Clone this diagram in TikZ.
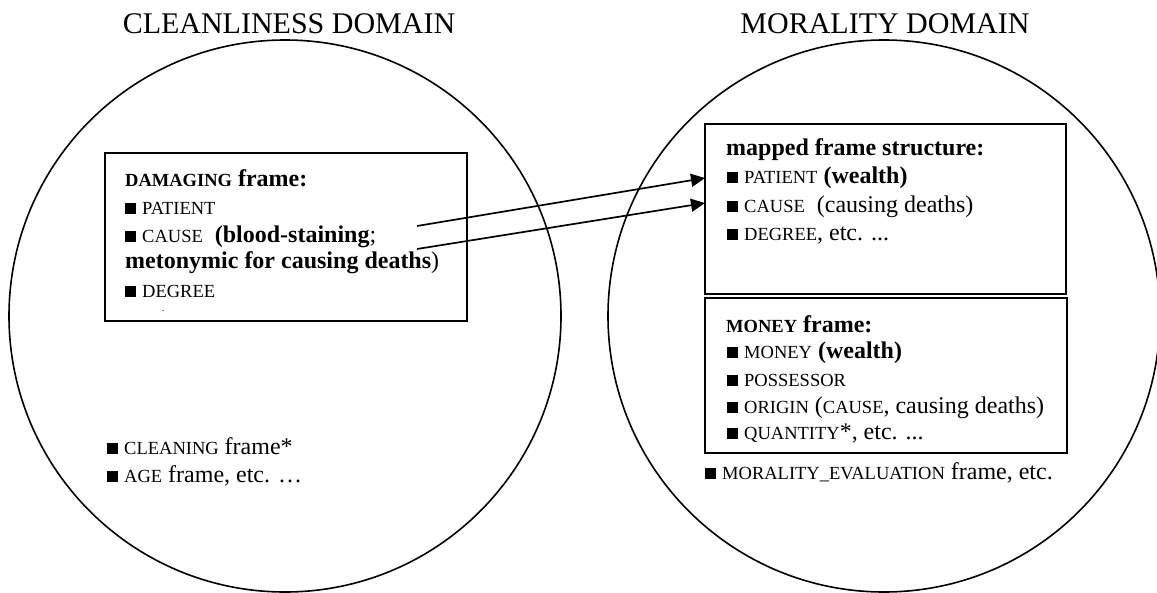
\documentclass[tikz,border=0pt]{standalone}
\usepackage{fontspec}
\setmainfont{Liberation Serif}
\usetikzlibrary{arrows.meta}
% frame-element names in reduced capitals
\newcommand\fe[1]{{\fontsize{18.5}{22}\selectfont #1}}
% square bullet
\newcommand\sqb{\rule{11pt}{11pt}\hspace{6pt}}
\begin{document}
\begin{tikzpicture}[x=1pt,y=-1pt,
  domcircle/.style={circle,draw,line width=1.6pt,minimum size=552pt,inner sep=0pt,outer sep=0pt},
  dtitle/.style={anchor=base,inner sep=0pt,font=\fontsize{30}{34}\selectfont},
  framebox/.style={draw,line width=1.8pt,anchor=north west,inner sep=0pt,outer sep=0pt},
  txt/.style={anchor=base west,inner sep=0pt,font=\fontsize{24}{28}\selectfont},
  map/.style={line width=1.7pt,-{Triangle[length=14pt,width=13pt]}}]
\useasboundingbox (0,0) rectangle (1157,592);

% domains
\node[domcircle] (clean) at (285,316) {};
\node[domcircle] (moral) at (884,316) {};
\node[dtitle] (cleanT) at (289,33) {CLEANLINESS DOMAIN};
\node[dtitle] (moralT) at (885,33) {MORALITY DOMAIN};

% source frame
\node[framebox,minimum width=362pt,minimum height=168pt] (dmg) at (105,153) {};
\node[txt] (d0) at (125,186) {\textbf{\fe{DAMAGING} frame:}};
\node[txt] (d1) at (125,214) {\sqb\fe{PATIENT}};
\node[txt] (d2) at (125,242) {\sqb\fe{CAUSE}\ \ \textbf{(blood-staining};};
\node[txt] (d3) at (125,268) {\textbf{metonymic for causing deaths})};
\node[txt] (d4) at (125,297) {\sqb\fe{DEGREE}};
\node[anchor=base,inner sep=0pt,font=\fontsize{10}{12}\selectfont] (d5) at (163,311) {.};

\node[txt] (c1) at (107,454) {\sqb\fe{CLEANING} frame*};
\node[txt] (c2) at (107,482) {\sqb\fe{AGE} frame, etc. …};

% target frames
\node[framebox,minimum width=361pt,minimum height=170pt] (mapped) at (705,124) {};
\node[txt] (m0) at (726,155) {\textbf{mapped frame structure:}};
\node[txt] (m1) at (727,183) {\sqb\fe{PATIENT} \textbf{(wealth)}};
\node[txt] (m2) at (727,212) {\sqb\fe{CAUSE}\ \ (causing deaths)};
\node[txt] (m3) at (727,240) {\sqb\fe{DEGREE}, etc. ...};

\node[framebox,minimum width=362pt,minimum height=155pt] (money) at (705,298) {};
\node[txt] (n0) at (726,332) {\textbf{\fe{MONEY} frame:}};
\node[txt] (n1) at (727,358) {\sqb\fe{MONEY} \textbf{(wealth)}};
\node[txt] (n2) at (727,386) {\sqb\fe{POSSESSOR}};
\node[txt] (n3) at (727,413) {\sqb\fe{ORIGIN} (\fe{CAUSE}, causing deaths)};
\node[txt] (n4) at (727,439) {\sqb\fe{QUANTITY}*, etc. ...};

\node[txt] (e1) at (705,479) {\sqb\fe{MORALITY\_EVALUATION} frame, etc.};

% mappings
\coordinate (s1) at (417,226);
\coordinate (s2) at (417,249);
\coordinate (t1) at (mapped.west |- 0,178);
\coordinate (t2) at (mapped.west |- 0,203);
\draw[map] (s1) -- (t1);
\draw[map] (s2) -- (t2);
\end{tikzpicture}
\end{document}
